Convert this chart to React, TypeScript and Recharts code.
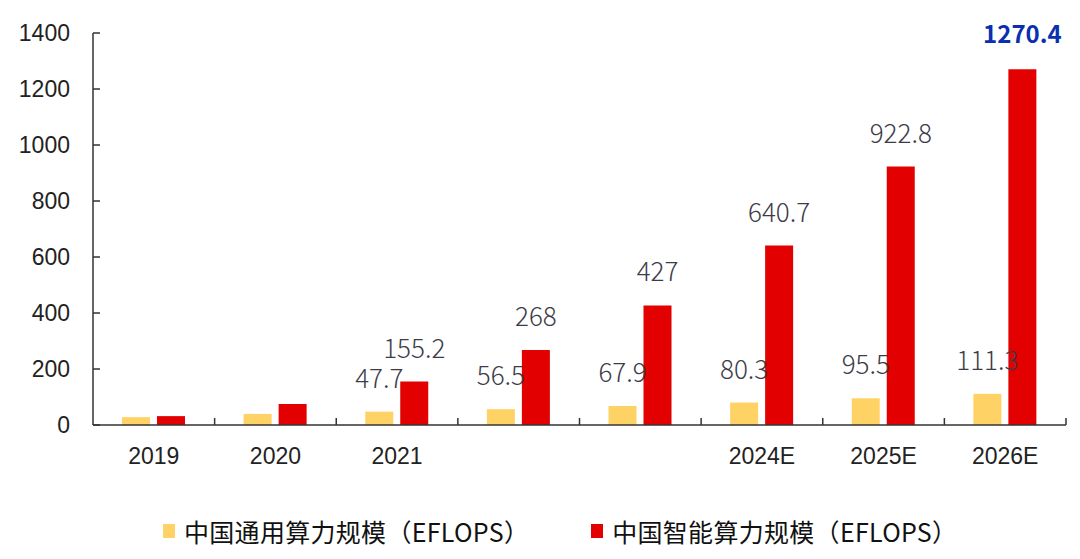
import React from 'react';
import { BarChart, Bar, XAxis, YAxis, LabelList, Legend } from 'recharts';

const years = ['2019', '2020', '2021', '2022', '2023', '2024E', '2025E', '2026E'];
const tickLabels = ['2019', '2020', '2021', '', '', '2024E', '2025E', '2026E'];
const generalCompute = [28, 39.6, 47.7, 56.5, 67.9, 80.3, 95.5, 111.3];
const aiCompute = [31.7, 75, 155.2, 268, 427, 640.7, 922.8, 1270.4];
const yTicks = [0, 200, 400, 600, 800, 1000, 1200, 1400];

const SERIES_NAMES = ['中国通用算力规模（EFLOPS）', '中国智能算力规模（EFLOPS）'];
const COLORS = ['#FFD265', '#E20000'];

const data = years.map((y, i) => ({
  year: y,
  general: generalCompute[i],
  ai: aiCompute[i],
}));

const W = 1080;
const H = 559;
const MARGIN = { top: 33, right: 14, left: 0, bottom: 0 };
const Y_AXIS_W = 93;
const X_AXIS_H = 98;
const BAND = (W - MARGIN.left - MARGIN.right - Y_AXIS_W) / years.length;

const AXIS_FONT = '"Liberation Sans", Arial, sans-serif';
const CJK_FONT = '"Noto Sans CJK SC", "Noto Sans", sans-serif';

const YTick = (props: any) => {
  const { x, y, payload } = props;
  return (
    <g>
      <line x1={x} x2={x + 7} y1={y} y2={y} stroke="#333" strokeWidth={1.5} />
      <text x={x - 23} y={y} dy={8} textAnchor="end" fontSize={23} fill="#222" fontFamily={AXIS_FONT}>
        {payload.value}
      </text>
    </g>
  );
};

const XTick = (props: any) => {
  const { x, y, index } = props;
  const last = index === years.length - 1;
  return (
    <g>
      {index > 0 && <line x1={x - BAND / 2} x2={x - BAND / 2} y1={y} y2={y - 7} stroke="#333" strokeWidth={1.5} />}
      {last && <line x1={x + BAND / 2} x2={x + BAND / 2} y1={y} y2={y - 7} stroke="#333" strokeWidth={1.5} />}
      <text x={x} y={y + 39} textAnchor="middle" fontSize={23} fill="#222" fontFamily={AXIS_FONT}>
        {tickLabels[index]}
      </text>
    </g>
  );
};

const makeLabel = (values: number[]) => (props: any) => {
  const { x, y, width, index } = props;
  if (index < 2) return null;
  const v = values[index];
  const highlight = v === Math.max(...aiCompute);
  return (
    <text
      x={x + width / 2}
      y={y - (highlight ? 26 : 24)}
      textAnchor="middle"
      fontSize={highlight ? 24 : 26}
      fontWeight={highlight ? 700 : 300}
      fill={highlight ? '#0A2FB0' : '#3c3c48'}
      fontFamily={CJK_FONT}
    >
      {v}
    </text>
  );
};

const LegendContent = () => (
  <div style={{ display: 'flex', alignItems: 'center', marginLeft: 163, gap: 62, fontFamily: CJK_FONT, fontSize: 25, letterSpacing: 0.3, color: '#111' }}>
    {SERIES_NAMES.map((n, i) => (
      <div key={n} style={{ display: 'flex', alignItems: 'center', gap: 9 }}>
        <span style={{ display: 'inline-block', width: 12, height: 14, background: COLORS[i] }} />
        <span>{n}</span>
      </div>
    ))}
  </div>
);

export default function App() {
  return (
    <div style={{ position: 'absolute', top: 0, left: 0, width: W, height: H, background: '#fff' }}>
      <BarChart width={W} height={H} data={data} margin={MARGIN} barSize={28} barGap={7}>
        <XAxis
          dataKey="year"
          axisLine={{ stroke: '#333', strokeWidth: 1.5 }}
          tickLine={false}
          tickSize={0}
          tickMargin={0}
          height={X_AXIS_H}
          tick={<XTick />}
          interval={0}
        />
        <YAxis
          domain={[0, 1400]}
          ticks={yTicks}
          width={Y_AXIS_W}
          axisLine={{ stroke: '#333', strokeWidth: 1.5 }}
          tickLine={false}
          tickSize={0}
          tickMargin={0}
          tick={<YTick />}
          interval={0}
        />
        <Legend verticalAlign="bottom" wrapperStyle={{ bottom: 10, left: 0, width: W }} content={<LegendContent />} />
        <Bar dataKey="general" name={SERIES_NAMES[0]} fill={COLORS[0]} isAnimationActive={false}>
          <LabelList dataKey="general" content={makeLabel(generalCompute)} />
        </Bar>
        <Bar dataKey="ai" name={SERIES_NAMES[1]} fill={COLORS[1]} isAnimationActive={false}>
          <LabelList dataKey="ai" content={makeLabel(aiCompute)} />
        </Bar>
      </BarChart>
    </div>
  );
}
